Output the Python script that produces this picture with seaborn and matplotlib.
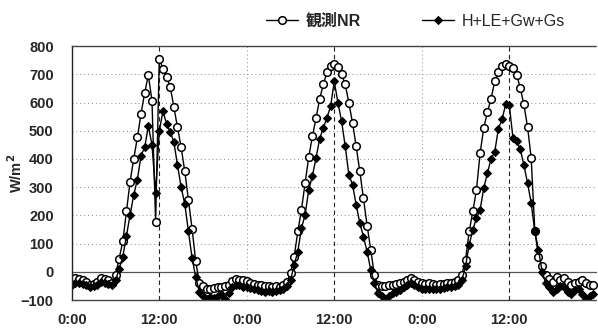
import numpy as np
import pandas as pd
import matplotlib
matplotlib.use("Agg")
import matplotlib.pyplot as plt
import seaborn as sns

# ── data (30-min values, three days) ─────────────────────────────────────────
hours = np.arange(144) * 0.5
tick_hours = [0, 12, 24, 36, 48, 60]
tick_labels = ["0:00", "12:00", "0:00", "12:00", "0:00", "12:00"]
y_ticks = [-100, 0, 100, 200, 300, 400, 500, 600, 700, 800]

nr_obs = [
    -40, -22, -25, -30, -35, -45, -42, -35, -22, -25, -30, -40,
    -11, 47, 108, 214, 320, 401, 476, 561, 634, 697, 607, 176,
    755, 720, 691, 656, 583, 512, 441, 356, 255, 153, 37, -40,
    -50, -62, -60, -58, -55, -52, -50, -45, -32, -25, -28, -30,
    -32, -38, -42, -45, -48, -50, -50, -52, -50, -52, -45, -35,
    -5, 54, 143, 220, 315, 407, 480, 545, 613, 664, 708, 729,
    735, 727, 700, 664, 599, 528, 445, 356, 261, 164, 78, -11,
    -45, -50, -50, -48, -45, -42, -40, -35, -28, -22, -28, -35,
    -40, -42, -40, -42, -45, -43, -42, -40, -38, -35, -28, -10,
    43, 143, 214, 291, 421, 510, 566, 613, 675, 709, 731, 737,
    731, 723, 699, 652, 593, 514, 404, 146, 54, 19, -10, -25,
    -35, -20, -30, -22, -35, -45, -40, -35, -28, -40, -45, -46,
]
flux_sum = [
    -45, -38, -40, -42, -48, -55, -50, -45, -35, -38, -42, -48,
    -30, 10, 54, 128, 202, 273, 327, 412, 441, 516, 451, 280,
    498, 569, 525, 496, 460, 378, 300, 240, 143, 49, -20, -70,
    -85, -95, -88, -92, -85, -80, -95, -75, -55, -45, -48, -52,
    -55, -58, -62, -65, -68, -70, -68, -70, -68, -65, -62, -50,
    -30, 25, 72, 155, 202, 291, 340, 404, 472, 510, 546, 587,
    675, 599, 534, 445, 344, 309, 238, 173, 125, 72, 7, -40,
    -75, -85, -95, -85, -75, -70, -65, -55, -48, -40, -45, -55,
    -60, -62, -60, -60, -62, -60, -58, -55, -55, -50, -45, -30,
    20, 96, 149, 191, 220, 297, 350, 400, 424, 507, 540, 593,
    590, 475, 463, 436, 378, 315, 244, 143, 78, 1, -40, -55,
    -70, -60, -50, -55, -70, -80, -65, -60, -80, -95, -85, -80,
]

sns.set_theme(style="white")
plt.rcParams["font.family"] = ["Liberation Sans", "Noto Sans CJK JP"]

fig = plt.figure(figsize=(5.98, 3.29), dpi=100)
ax = fig.add_axes([0.120, 0.088, 0.878, 0.772])

# grid / reference lines
for v in y_ticks[2:-1]:
    ax.axhline(v, color="#888888", lw=0.7, ls=(0, (1, 3)), zorder=0)
ax.axhline(0, color="#555555", lw=0.9, zorder=0)
for h in [24, 48]:
    ax.axvline(h, color="#888888", lw=0.7, ls=(0, (1, 3)), zorder=0)
for h in [12, 36, 60]:
    ax.axvline(h, color="#222222", lw=0.8, ls=(0, (4, 3)), zorder=0)

sns.lineplot(x=hours, y=nr_obs, ax=ax, color="black", lw=1.0,
             marker="o", markersize=5.5, markerfacecolor="white",
             markeredgecolor="black", markeredgewidth=1.1,
             label="観測NR")
sns.lineplot(x=hours, y=flux_sum, ax=ax, color="black", lw=1.0,
             marker="D", markersize=4.3, markerfacecolor="black",
             markeredgecolor="black", label="H+LE+Gw+Gs")

ax.set_xlim(0, 72)
ax.set_ylim(-100, 800)
ax.set_xticks(tick_hours)
ax.set_xticklabels(tick_labels)
ax.set_yticks(y_ticks)
ax.set_yticklabels([f"{v:d}".replace("-", "\u2212") for v in y_ticks])
ax.tick_params(axis="both", length=0, labelsize=10.5)
ax.tick_params(axis="y", pad=13)
ax.tick_params(axis="x", pad=9)
for lab in ax.get_xticklabels() + ax.get_yticklabels():
    lab.set_fontweight("bold")
ax.set_ylabel("W/m$^\\mathbf{2}$", fontsize=10.5, fontweight="bold")
ax.yaxis.set_label_coords(-0.09, 0.5)
ax.set_xlabel("")

ax.spines["right"].set_visible(False)
ax.spines["left"].set_color("#222222")
ax.spines["left"].set_linewidth(1.0)
for s in ["top", "bottom"]:
    ax.spines[s].set_color("#444444")
    ax.spines[s].set_linewidth(1.0)
    ax.spines[s].set_linestyle((0, (2, 1)))

leg = ax.legend(loc="center", bbox_to_anchor=(0.695, 0.936),
                bbox_transform=fig.transFigure, ncol=2, frameon=False,
                fontsize=11.5, handlelength=2.0, handletextpad=0.5,
                columnspacing=3.8)
leg.get_texts()[0].set_fontweight("bold")

fig.savefig("out.png", dpi=100)
